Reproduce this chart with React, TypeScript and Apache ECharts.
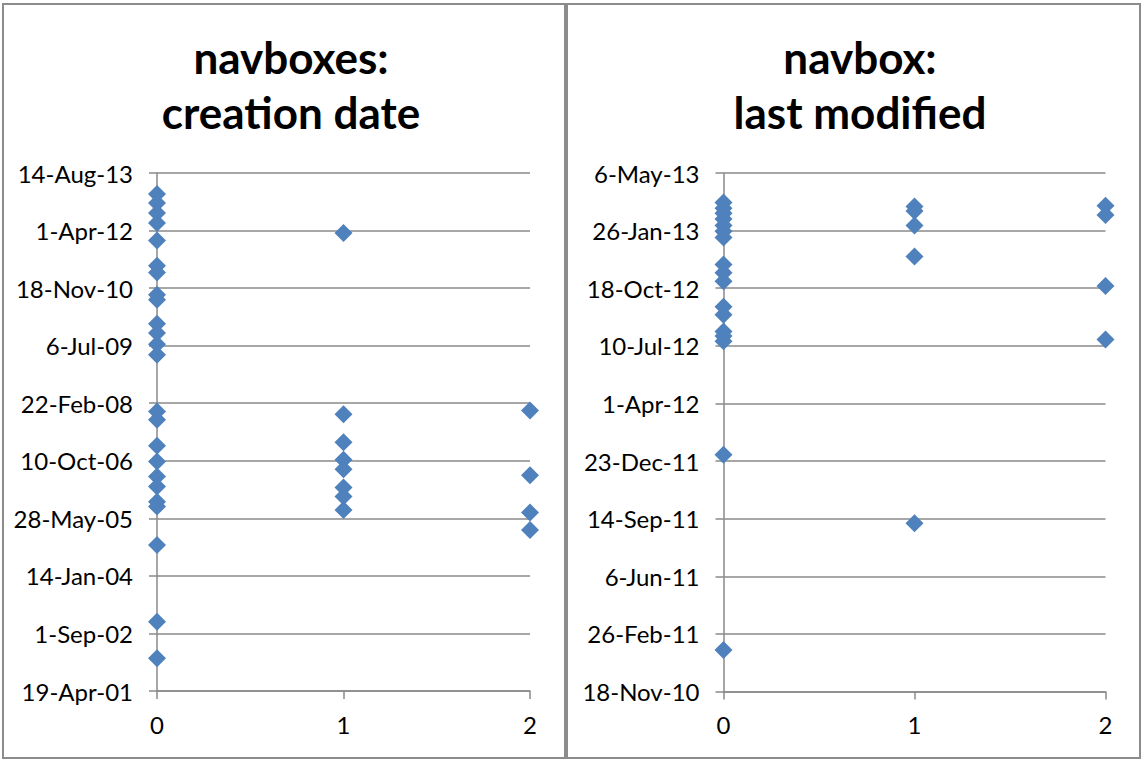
import React, { useEffect, useRef } from "react";
import * as echarts from "echarts";

// Spreadsheet-style day numbers (days since 30-Dec-1899) are used on both value axes.
const EPOCH = Date.UTC(1899, 11, 30);
const DAY = 86400000;
const MONTHS = ["Jan", "Feb", "Mar", "Apr", "May", "Jun", "Jul", "Aug", "Sep", "Oct", "Nov", "Dec"];

const toSerial = (iso: string) => {
  const [y, m, d] = iso.split("-").map(Number);
  return (Date.UTC(y, m - 1, d) - EPOCH) / DAY;
};
const fmtSerial = (v: number) => {
  const dt = new Date(EPOCH + Math.round(v) * DAY);
  const yy = String(dt.getUTCFullYear() % 100).padStart(2, "0");
  return `${dt.getUTCDate()}-${MONTHS[dt.getUTCMonth()]}-${yy}`;
};

// Panel 1: navboxes creation date, grouped by count (0, 1, 2)
const createdCount0 = [
  "2013-02-12", "2012-11-26", "2012-08-31", "2012-06-05", "2012-01-06", "2011-05-31",
  "2011-04-03", "2010-09-21", "2010-08-09", "2010-01-12", "2009-10-23", "2009-07-19",
  "2009-04-18", "2007-12-12", "2007-10-01", "2007-02-17", "2006-10-03", "2006-05-26",
  "2006-02-28", "2005-10-20", "2005-09-07", "2004-10-09", "2002-12-12", "2002-01-28",
];
const createdCount1 = [
  "2012-03-10", "2007-11-19", "2007-03-21", "2006-10-18", "2006-07-29", "2006-02-19",
  "2005-12-03", "2005-08-09",
];
const createdCount2 = ["2007-12-20", "2006-06-07", "2005-07-17", "2005-02-16"];

// Panel 2: navbox last modified, grouped by count (0, 1, 2)
const modifiedCount0 = [
  "2013-03-16", "2013-03-06", "2013-02-25", "2013-02-15", "2013-02-04", "2013-01-25",
  "2013-01-14", "2012-11-28", "2012-11-14", "2012-10-30", "2012-09-16", "2012-09-02",
  "2012-08-04", "2012-07-27", "2012-07-18", "2012-01-03", "2011-01-29",
];
const modifiedCount1 = ["2013-03-09", "2013-03-01", "2013-02-04", "2012-12-12", "2011-09-06"];
const modifiedCount2 = ["2013-03-10", "2013-02-22", "2012-10-22", "2012-07-21"];

const titles = ["navboxes:\ncreation date", "navbox:\nlast modified"];
const xTicks = { min: 0, max: 2, interval: 1 };
const createdAxis = { min: 37000, max: 41500, interval: 500 }; // 19-Apr-01 .. 14-Aug-13
const modifiedAxis = { min: 40500, max: 41400, interval: 100 }; // 18-Nov-10 .. 6-May-13

const FONT = "Lato, 'Open Sans', sans-serif";
const GRID = "#8a8a8a";
const BLUE = "#4F81BD";

const points = (groups: string[][]) =>
  groups.flatMap((dates, x) => dates.map((d) => [x, toSerial(d)]));

export default function App() {
  const ref = useRef<HTMLDivElement>(null);

  useEffect(() => {
    if (!ref.current) return;
    const chart = echarts.init(ref.current, null, { renderer: "svg" });

    const xAxis = (gridIndex: number) => ({
      type: "value",
      gridIndex,
      ...xTicks,
      axisLine: { show: true, onZero: false, lineStyle: { color: GRID, width: 1.5 } },
      axisTick: { show: true, length: 8, lineStyle: { color: GRID, width: 1.5 } },
      axisLabel: { color: "#000", fontSize: 24, fontFamily: FONT, margin: 21 },
      splitLine: { show: false },
    });
    const yAxis = (gridIndex: number, range: { min: number; max: number; interval: number }) => ({
      type: "value",
      gridIndex,
      ...range,
      axisLine: { show: true, onZero: false, lineStyle: { color: GRID, width: 1.5 } },
      axisTick: { show: true, length: 8, lineStyle: { color: GRID, width: 1.5 } },
      axisLabel: {
        color: "#000",
        fontSize: 24,
        fontFamily: FONT,
        margin: 24,
        formatter: (v: number) => fmtSerial(v),
      },
      splitLine: { show: true, lineStyle: { color: GRID, width: 1.5 } },
    });
    const scatter = (idx: number, data: number[][]) => ({
      type: "scatter",
      xAxisIndex: idx,
      yAxisIndex: idx,
      symbol: "diamond",
      symbolSize: 18,
      itemStyle: { color: BLUE, opacity: 1 },
      data,
    });

    chart.setOption({
      animation: false,
      backgroundColor: "#fff",
      title: [
        { text: titles[0], left: 286, textAlign: "center" },
        { text: titles[1], left: 855, textAlign: "center" },
      ].map((t) => ({
        ...t,
        top: 24,
        textStyle: { fontFamily: FONT, fontSize: 44, fontWeight: "bold", color: "#000", lineHeight: 55 },
      })),
      grid: [
        { left: 157, right: 613, top: 173, bottom: 70 },
        { left: 723.5, right: 37.5, top: 173, bottom: 69.5 },
      ],
      xAxis: [xAxis(0), xAxis(1)],
      yAxis: [yAxis(0, createdAxis), yAxis(1, modifiedAxis)],
      series: [
        scatter(0, points([createdCount0, createdCount1, createdCount2])),
        scatter(1, points([modifiedCount0, modifiedCount1, modifiedCount2])),
      ],
      graphic: [
        { type: "rect", shape: { x: 3, y: 4, width: 562, height: 754 }, style: { fill: "none", stroke: "#8c8c8c", lineWidth: 2 }, silent: true },
        { type: "rect", shape: { x: 567, y: 4, width: 573, height: 754 }, style: { fill: "none", stroke: "#8c8c8c", lineWidth: 2 }, silent: true },
      ],
    });

    return () => chart.dispose();
  }, []);

  return (
    <div
      ref={ref}
      style={{ position: "fixed", left: 0, top: 0, width: 1143, height: 761, background: "#fff" }}
    />
  );
}
